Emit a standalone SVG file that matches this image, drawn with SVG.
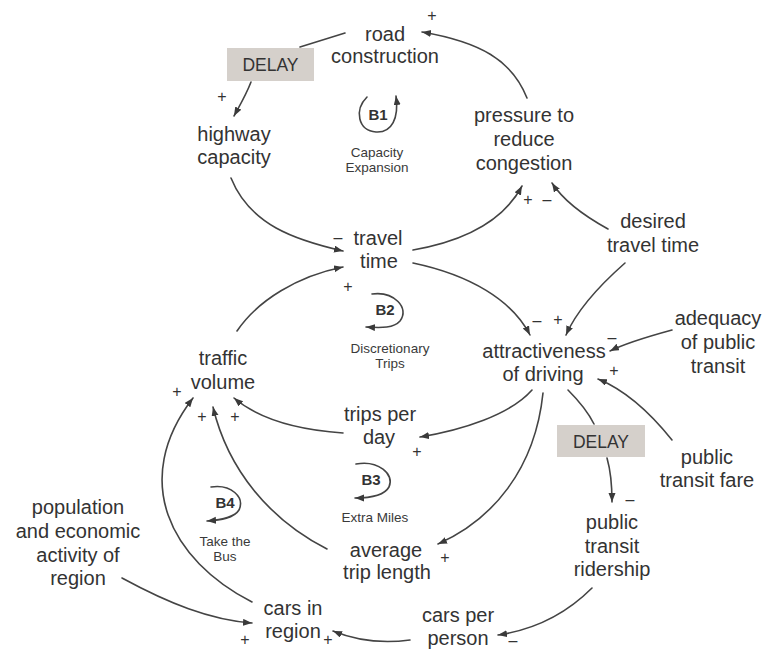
<svg xmlns="http://www.w3.org/2000/svg" width="764" height="650" viewBox="0 0 764 650">
  <defs>
    <marker id="arrow" markerUnits="userSpaceOnUse" markerWidth="10" markerHeight="8" refX="9" refY="3.5" orient="auto">
      <path d="M0,0 L9,3.5 L0,7 z" fill="#3a3a3a"/>
    </marker>
    <style>
      .lbl { font-family: "Liberation Sans", Arial, sans-serif; font-size: 20px; fill: #333; text-anchor: middle; }
      .small { font-family: "Liberation Sans", Arial, sans-serif; font-size: 13.5px; fill: #3a3a3a; text-anchor: middle; }
      .loop { font-family: "Liberation Sans", Arial, sans-serif; font-size: 15px; font-weight: bold; fill: #333; text-anchor: middle; }
      .sign { font-family: "Liberation Sans", Arial, sans-serif; font-size: 16px; fill: #333; text-anchor: middle; }
      .delay-box { fill: #d5d0cb; }
      .delay-txt { font-family: "Liberation Sans", Arial, sans-serif; font-size: 17.5px; fill: #333; text-anchor: middle; }
      .link { fill: none; stroke: #444; stroke-width: 1.6; stroke-linecap: round; }
      .arr { marker-end: url(#arrow); }
    </style>
  </defs>
  <rect width="764" height="650" fill="#ffffff"/>

  <!-- causal links -->
  <g id="connectors">
    <path class="link" d="M345,33 L300,47"/>
    <path class="link arr" d="M251,82 C246,95 240,105 234,116"/>
    <path class="link arr" d="M527,98 C512,60 480,42 422,32"/>
    <path class="link arr" d="M231,178 C250,225 295,240 343,251"/>
    <path class="link arr" d="M413,250 C470,240 505,218 522,186"/>
    <path class="link arr" d="M608,229 C588,218 565,203 552,183"/>
    <path class="link arr" d="M237,331 C258,300 298,276 343,267"/>
    <path class="link arr" d="M413,263 C470,275 512,300 530,335"/>
    <path class="link arr" d="M625,263 C600,285 577,310 566,335"/>
    <path class="link arr" d="M672,330 C650,336 628,342 610,351"/>
    <path class="link arr" d="M672,440 C648,410 625,390 598,379"/>
    <path class="link arr" d="M532,390 C510,415 462,430 420,437"/>
    <path class="link arr" d="M543,393 C535,470 492,520 438,544"/>
    <path class="link" d="M568,390 C578,400 588,412 594,424"/>
    <path class="link arr" d="M607,458 C611,472 612,486 612,502"/>
    <path class="link arr" d="M343,433 C300,430 260,420 234,398"/>
    <path class="link arr" d="M327,549 C270,520 228,470 213,407"/>
    <path class="link arr" d="M252,602 C170,560 130,480 193,398"/>
    <path class="link arr" d="M122,578 C168,603 210,620 252,623"/>
    <path class="link arr" d="M592,588 C565,615 532,630 498,635"/>
    <path class="link arr" d="M410,640 C380,644 355,640 333,631"/>
  </g>

  <!-- delay markers -->
  <g id="delay1">
    <rect class="delay-box" x="227" y="48" width="87" height="33"/>
    <text class="delay-txt" x="270.5" y="71">DELAY</text>
  </g>
  <g id="delay2">
    <rect class="delay-box" x="557" y="425" width="88" height="32"/>
    <text class="delay-txt" x="601" y="447.5">DELAY</text>
  </g>

  <!-- variables -->
  <g id="road-construction">
    <text class="lbl" x="385" y="41">road</text>
    <text class="lbl" x="385" y="63">construction</text>
  </g>
  <g id="highway-capacity">
    <text class="lbl" x="234" y="141">highway</text>
    <text class="lbl" x="234" y="164">capacity</text>
  </g>
  <g id="pressure">
    <text class="lbl" x="524" y="122">pressure to</text>
    <text class="lbl" x="524" y="146">reduce</text>
    <text class="lbl" x="524" y="170">congestion</text>
  </g>
  <g id="desired-travel-time">
    <text class="lbl" x="653" y="228">desired</text>
    <text class="lbl" x="653" y="252">travel time</text>
  </g>
  <g id="travel-time">
    <text class="lbl" x="378" y="245">travel</text>
    <text class="lbl" x="379" y="268">time</text>
  </g>
  <g id="attractiveness">
    <text class="lbl" x="544" y="358">attractiveness</text>
    <text class="lbl" x="543" y="381">of driving</text>
  </g>
  <g id="adequacy">
    <text class="lbl" x="718" y="325">adequacy</text>
    <text class="lbl" x="718" y="349">of public</text>
    <text class="lbl" x="718" y="373">transit</text>
  </g>
  <g id="traffic-volume">
    <text class="lbl" x="223" y="365">traffic</text>
    <text class="lbl" x="223" y="389">volume</text>
  </g>
  <g id="trips-per-day">
    <text class="lbl" x="380" y="421">trips per</text>
    <text class="lbl" x="379" y="444">day</text>
  </g>
  <g id="transit-fare">
    <text class="lbl" x="707" y="464">public</text>
    <text class="lbl" x="707" y="487">transit fare</text>
  </g>
  <g id="average-trip-length">
    <text class="lbl" x="386" y="557">average</text>
    <text class="lbl" x="387" y="579">trip length</text>
  </g>
  <g id="ridership">
    <text class="lbl" x="612" y="529">public</text>
    <text class="lbl" x="612" y="553">transit</text>
    <text class="lbl" x="612" y="576">ridership</text>
  </g>
  <g id="population">
    <text class="lbl" x="78" y="514">population</text>
    <text class="lbl" x="78" y="538">and economic</text>
    <text class="lbl" x="78" y="562">activity of</text>
    <text class="lbl" x="78" y="585">region</text>
  </g>
  <g id="cars-in-region">
    <text class="lbl" x="293" y="615">cars in</text>
    <text class="lbl" x="293" y="638">region</text>
  </g>
  <g id="cars-per-person">
    <text class="lbl" x="458" y="622">cars per</text>
    <text class="lbl" x="458" y="645">person</text>
  </g>

  <!-- loop markers -->
  <g id="loop-b1">
    <path class="link arr" d="M367,97 C354,110 358,131 376,132 C392,133 399,118 396,96"/>
    <text class="loop" x="378" y="120">B1</text>
    <text class="small" x="377" y="157">Capacity</text>
    <text class="small" x="377" y="172">Expansion</text>
  </g>
  <g id="loop-b2">
    <path class="link arr" d="M372,294 C394,291 410,308 400,321 C394,328 382,328 366,327"/>
    <text class="loop" x="385" y="315">B2</text>
    <text class="small" x="390" y="353">Discretionary</text>
    <text class="small" x="390" y="368">Trips</text>
  </g>
  <g id="loop-b3">
    <path class="link arr" d="M356,464 C378,460 395,474 389,487 C384,496 371,498 355,498"/>
    <text class="loop" x="371" y="485">B3</text>
    <text class="small" x="375" y="522">Extra Miles</text>
  </g>
  <g id="loop-b4">
    <path class="link arr" d="M211,487 C231,484 245,497 239,510 C234,518 221,520 207,521"/>
    <text class="loop" x="225" y="508">B4</text>
    <text class="small" x="225" y="546">Take the</text>
    <text class="small" x="225" y="561">Bus</text>
  </g>

  <!-- link polarities -->
  <g id="polarities">
    <text class="sign" x="432" y="21">+</text>
    <text class="sign" x="222" y="102">+</text>
    <text class="sign" x="528" y="205">+</text>
    <text class="sign" x="547" y="205">–</text>
    <text class="sign" x="338" y="243">–</text>
    <text class="sign" x="348" y="292">+</text>
    <text class="sign" x="537" y="326">–</text>
    <text class="sign" x="558" y="325">+</text>
    <text class="sign" x="612" y="343">–</text>
    <text class="sign" x="614" y="376">+</text>
    <text class="sign" x="177" y="397">+</text>
    <text class="sign" x="202" y="422">+</text>
    <text class="sign" x="235" y="422">+</text>
    <text class="sign" x="417" y="457">+</text>
    <text class="sign" x="445" y="563">+</text>
    <text class="sign" x="630" y="505">–</text>
    <text class="sign" x="245" y="645">+</text>
    <text class="sign" x="328" y="645">+</text>
    <text class="sign" x="513" y="646">–</text>
  </g>
</svg>
